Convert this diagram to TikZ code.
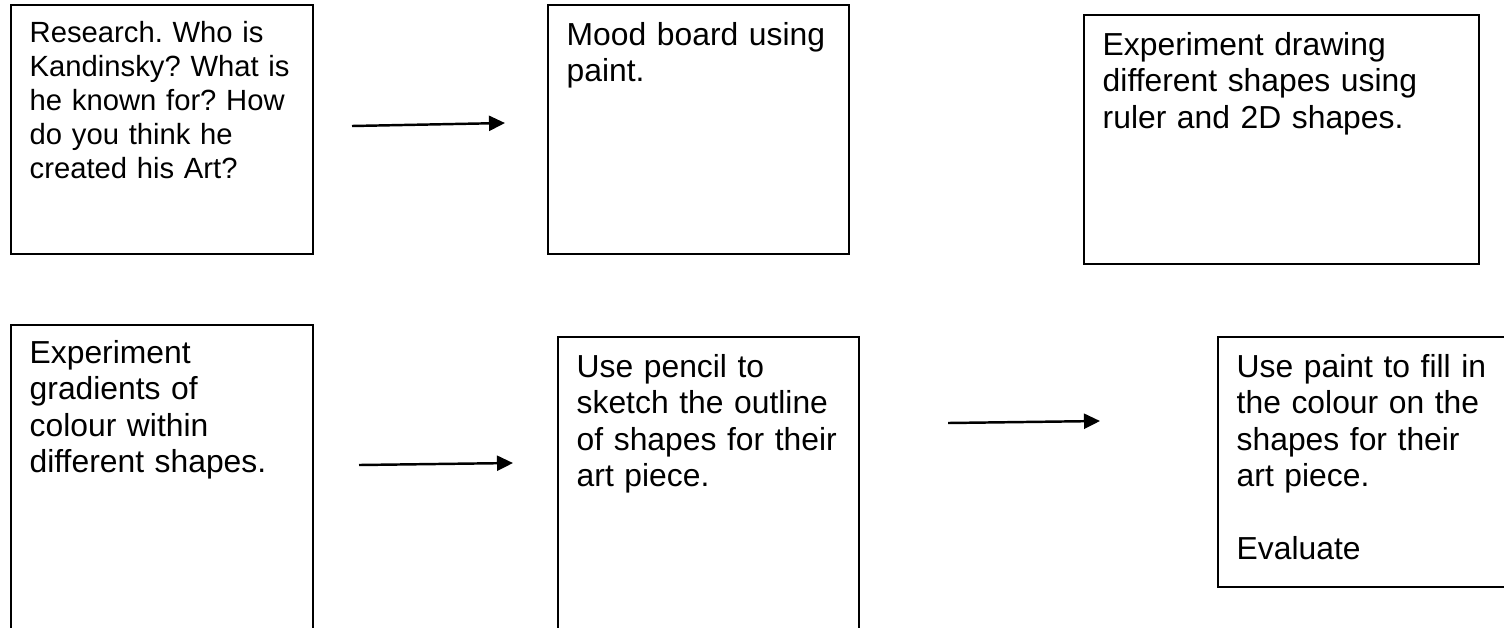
\documentclass[tikz,border=0pt]{standalone}
\usepackage{fontspec}
\setmainfont{Liberation Sans}
\usetikzlibrary{arrows.meta}
\frenchspacing

\begin{document}
\begin{tikzpicture}[x=0.01cm, y=-0.01cm, >={Triangle[length=0.16cm, width=0.15cm]},
    stepbox/.style={draw, rectangle, anchor=north west, line width=0.5pt, inner sep=0pt},
    steptext/.style={anchor=base west, align=left, text width=4.5cm, inner sep=0pt, xshift=0.19cm,
        font=\fontsize{9.05pt}{10.39pt}\selectfont},
    flow/.style={->, line width=0.7pt}]
    \clip (0,0) rectangle (1504,627);

    % top row
    \node [stepbox, minimum width=3.02cm, minimum height=2.49cm] (research) at (10,4) {};
    \node [stepbox, minimum width=3.01cm, minimum height=2.49cm] (mood) at (547,4) {};
    \node [stepbox, minimum width=3.95cm, minimum height=2.49cm] (drawing) at (1083,14) {};
    \node [steptext, font=\fontsize{8.31pt}{9.67pt}\selectfont, yshift=-0.38cm] (research text) at (research.north west)
        {Research. Who is\\ Kandinsky? What is\\ he known for? How\\ do you think he\\ created his Art?};
    \node [steptext, yshift=-0.41cm] (mood text) at (mood.north west) {Mood board using\\ paint.};
    \node [steptext, yshift=-0.41cm] (drawing text) at (drawing.north west)
        {Experiment drawing\\ different shapes using\\ ruler and 2D shapes.};

    % bottom row
    \node [stepbox, minimum width=3.02cm, minimum height=3.2cm] (gradient) at (10,324) {};
    \node [stepbox, minimum width=3.01cm, minimum height=3.1cm] (sketch) at (557,336) {};
    \node [stepbox, minimum width=2.95cm, minimum height=2.5cm] (paint) at (1217,336) {};
    \node [steptext, yshift=-0.39cm] (gradient text) at (gradient.north west)
        {Experiment\\ gradients of\\ colour within\\ different shapes.};
    \node [steptext, yshift=-0.41cm] (sketch text) at (sketch.north west)
        {Use pencil to\\ sketch the outline\\ of shapes for their\\ art piece.};
    \node [steptext, yshift=-0.41cm] (paint text) at (paint.north west)
        {Use paint to fill in\\ the colour on the\\ shapes for their\\ art piece.\\[\baselineskip] Evaluate};

    % arrows
    \coordinate (a1 start) at (352,126);
    \coordinate (a1 end) at (505,123);
    \coordinate (a2 start) at (359,465);
    \coordinate (a2 end) at (513,463);
    \coordinate (a3 start) at (948,423);
    \coordinate (a3 end) at (1100,421);
    \draw [flow] (a1 start) -- (a1 end);
    \draw [flow] (a2 start) -- (a2 end);
    \draw [flow] (a3 start) -- (a3 end);
\end{tikzpicture}
\end{document}
